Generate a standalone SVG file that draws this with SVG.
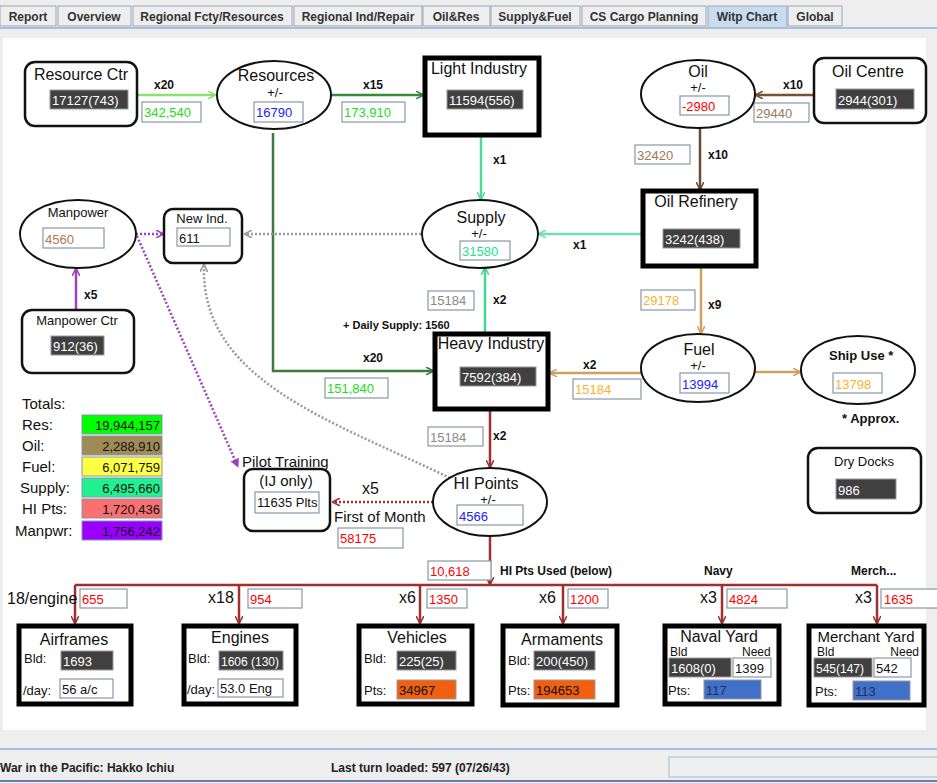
<svg xmlns="http://www.w3.org/2000/svg" width="937" height="783" viewBox="0 0 937 783">
<defs>
<marker id="ah" viewBox="0 0 10 10" refX="9" refY="5" markerWidth="8" markerHeight="8" orient="auto" markerUnits="userSpaceOnUse"><path d="M0,0 L10,5 L0,10" fill="none" stroke="context-stroke" stroke-width="2"/></marker>
<marker id="af" viewBox="0 0 10 10" refX="9" refY="5" markerWidth="9" markerHeight="9" orient="auto" markerUnits="userSpaceOnUse"><path d="M0,0 L10,5 L0,10 z" fill="context-stroke"/></marker>
</defs>
<style>
text{font-family:"Liberation Sans",Arial,sans-serif;fill:#111}
.t{font-size:16px;text-anchor:middle}
.pm{font-size:13px;text-anchor:middle}
.b{font-size:12px;font-weight:bold}
.tab{font-size:12px;font-weight:bold;fill:#333;text-anchor:middle}
.rr{fill:#fff;stroke:#111;stroke-width:2.5}
.th{fill:#fff;stroke:#000;stroke-width:5}
.el{fill:#fff;stroke:#111;stroke-width:2}
.dk{fill:#404040;stroke:#999;stroke-width:1}
.dt{font-size:13px;fill:#fff}
.vb{fill:#fff;stroke:#8896a8;stroke-width:1.2}
.v{font-size:13px}
.ln{fill:none;stroke-width:2.5;marker-end:url(#ah)}
.tot{font-size:15px}
.tv{font-size:13px;text-anchor:end}
</style>
<rect width="937" height="783" fill="#eeeeee"/>
<g id="tabs">
<rect x="0" y="6" width="56" height="20" fill="#eeeeee" stroke="#9aa8b8"/><text class="tab" x="28" y="21">Report</text>
<rect x="58" y="6" width="73" height="20" fill="#eeeeee" stroke="#9aa8b8"/><text class="tab" x="94" y="21">Overview</text>
<rect x="133" y="6" width="159" height="20" fill="#eeeeee" stroke="#9aa8b8"/><text class="tab" x="212" y="21">Regional Fcty/Resources</text>
<rect x="294" y="6" width="128" height="20" fill="#eeeeee" stroke="#9aa8b8"/><text class="tab" x="358" y="21">Regional Ind/Repair</text>
<rect x="423" y="6" width="67" height="20" fill="#eeeeee" stroke="#9aa8b8"/><text class="tab" x="456" y="21">Oil&amp;Res</text>
<rect x="491" y="6" width="89" height="20" fill="#eeeeee" stroke="#9aa8b8"/><text class="tab" x="535" y="21">Supply&amp;Fuel</text>
<rect x="582" y="6" width="124" height="20" fill="#eeeeee" stroke="#9aa8b8"/><text class="tab" x="644" y="21">CS Cargo Planning</text>
<rect x="708" y="6" width="79" height="22" fill="#c8dcf0" stroke="#9aa8b8"/><text class="tab" x="747" y="21">Witp Chart</text>
<rect x="788" y="6" width="54" height="20" fill="#eeeeee" stroke="#9aa8b8"/><text class="tab" x="815" y="21">Global</text>
<line x1="0" y1="28" x2="937" y2="28" stroke="#a8c0dc" stroke-width="2"/>
</g>
<rect x="3" y="38" width="923" height="692" fill="#fff"/>

<g id="connectors">
<line class="ln" x1="137" y1="95" x2="215" y2="95" stroke="#90e070"/>
<line class="ln" x1="331" y1="95" x2="423" y2="95" stroke="#3a8a3a"/>
<polyline class="ln" points="273,133 273,371 433,371" stroke="#3a7a3a"/>
<line class="ln" x1="481" y1="137" x2="481" y2="199" stroke="#50dc98"/>
<line class="ln" x1="642" y1="234" x2="539" y2="234" stroke="#70e0b0"/>
<line class="ln" x1="485" y1="333" x2="485" y2="268" stroke="#40d890"/>
<line class="ln" x1="814" y1="95" x2="756" y2="95" stroke="#7a5030"/>
<line class="ln" x1="700" y1="128" x2="700" y2="189" stroke="#6a4a30"/>
<line class="ln" x1="701" y1="267" x2="701" y2="333" stroke="#d0a060"/>
<line class="ln" x1="641" y1="373" x2="550" y2="373" stroke="#d0a060"/>
<line class="ln" x1="755" y1="372" x2="800" y2="372" stroke="#d0a060"/>
<line class="ln" x1="490" y1="410" x2="490" y2="467" stroke="#a03030"/>
<line class="ln" x1="421" y1="234" x2="245" y2="234" stroke="#999" stroke-dasharray="2,2"/>
<path class="ln" d="M450,478 C330,420 200,380 204,265" stroke="#999" stroke-dasharray="2,2"/>
<line x1="136" y1="234" x2="163" y2="234" stroke="#a040c0" stroke-width="2.5" stroke-dasharray="2,2" marker-end="url(#ah)"/>
<line x1="137" y1="236" x2="238" y2="467" stroke="#a040c0" stroke-width="2.5" stroke-dasharray="2,2" marker-end="url(#af)"/>
<line class="ln" x1="76" y1="310" x2="76" y2="269" stroke="#a040c0"/>
<line class="ln" x1="433" y1="502" x2="333" y2="502" stroke="#a03030" stroke-dasharray="2,2"/>
<line class="ln" x1="490" y1="536" x2="490" y2="584" stroke="#a03030"/>
<line x1="75" y1="585" x2="877" y2="585" stroke="#a03030" stroke-width="2.5"/>
<line class="ln" x1="75" y1="585" x2="75" y2="623" stroke="#a03030"/>
<line class="ln" x1="239" y1="585" x2="239" y2="623" stroke="#a03030"/>
<line class="ln" x1="420" y1="585" x2="420" y2="623" stroke="#a03030"/>
<line class="ln" x1="563" y1="585" x2="563" y2="623" stroke="#a03030"/>
<line class="ln" x1="722" y1="585" x2="722" y2="623" stroke="#a03030"/>
<line class="ln" x1="877" y1="585" x2="877" y2="623" stroke="#a03030"/>
</g>

<g id="labels">
<text class="b" x="154" y="89">x20</text>
<rect class="vb" x="142" y="102" width="59" height="20"/><text class="v" x="144" y="117" style="fill:#22dd22">342,540</text>
<text class="b" x="363" y="89">x15</text>
<rect class="vb" x="342" y="102" width="63" height="20"/><text class="v" x="344" y="117" style="fill:#22dd22">173,910</text>
<text class="b" x="363" y="362">x20</text>
<rect class="vb" x="325" y="378" width="63" height="20"/><text class="v" x="327" y="393" style="fill:#22dd22">151,840</text>
<text class="b" x="493" y="164">x1</text>
<text class="b" x="573" y="249">x1</text>
<text class="b" x="493" y="304">x2</text>
<rect class="vb" x="428" y="291" width="46" height="19"/><text class="v" x="430" y="305" style="fill:#888">15184</text>
<text class="b" x="343" y="329" style="font-size:11px">+ Daily Supply: 1560</text>
<text class="b" x="783" y="89">x10</text>
<rect class="vb" x="754" y="103" width="55" height="19"/><text class="v" x="756" y="118" style="fill:#9a7a5a">29440</text>
<text class="b" x="708" y="159">x10</text>
<rect class="vb" x="635" y="145" width="55" height="19"/><text class="v" x="637" y="160" style="fill:#9a7a5a">32420</text>
<text class="b" x="708" y="309">x9</text>
<rect class="vb" x="641" y="290" width="54" height="20"/><text class="v" x="643" y="305" style="fill:#ffb030">29178</text>
<text class="b" x="583" y="369">x2</text>
<rect class="vb" x="573" y="379" width="68" height="20"/><text class="v" x="575" y="394" style="fill:#ffb030">15184</text>
<text class="b" x="493" y="440">x2</text>
<rect class="vb" x="428" y="427" width="55" height="19"/><text class="v" x="430" y="442" style="fill:#888">15184</text>
<text class="b" x="84" y="299">x5</text>
<text x="362" y="494" style="font-size:16px">x5</text>
<text x="334" y="522" style="font-size:15px">First of Month</text>
<rect class="vb" x="338" y="528" width="65" height="20"/><text class="v" x="340" y="543" style="fill:red">58175</text>
<rect class="vb" x="428" y="561" width="63" height="19"/><text class="v" x="430" y="576" style="fill:red">10,618</text>
<text class="b" x="500" y="575">HI Pts Used (below)</text>
<text class="b" x="704" y="575">Navy</text>
<text class="b" x="851" y="575">Merch...</text>
<text x="7" y="604" style="font-size:16px">18/engine</text>
<rect class="vb" x="80" y="589" width="47" height="19"/><text class="v" x="82" y="604" style="fill:red">655</text>
<text x="208" y="603" style="font-size:16px">x18</text>
<rect class="vb" x="248" y="589" width="54" height="19"/><text class="v" x="250" y="604" style="fill:red">954</text>
<text x="399" y="603" style="font-size:16px">x6</text>
<rect class="vb" x="427" y="589" width="40" height="19"/><text class="v" x="429" y="604" style="fill:red">1350</text>
<text x="539" y="603" style="font-size:16px">x6</text>
<rect class="vb" x="568" y="589" width="40" height="19"/><text class="v" x="570" y="604" style="fill:red">1200</text>
<text x="700" y="603" style="font-size:16px">x3</text>
<rect class="vb" x="727" y="589" width="60" height="19"/><text class="v" x="729" y="604" style="fill:red">4824</text>
<text x="855" y="603" style="font-size:16px">x3</text>
<rect class="vb" x="881" y="589" width="60" height="19"/><text class="v" x="884" y="604" style="fill:red">1635</text>
</g>

<g id="resource-ctr"><rect class="rr" x="25" y="62" width="112" height="64" rx="10"/><text class="t" x="81" y="80">Resource Ctr</text><rect class="dk" x="50" y="90" width="78" height="19"/><text class="dt" x="52" y="105">17127(743)</text></g>
<g id="resources"><ellipse class="el" cx="274" cy="95" rx="57" ry="34"/><text class="t" x="276" y="81">Resources</text><text class="pm" x="275" y="97">+/-</text><rect class="vb" x="254" y="102" width="49" height="20"/><text class="v" x="256" y="117" style="fill:#2020ff">16790</text></g>
<g id="light-industry"><rect class="th" x="425" y="58" width="114" height="77"/><text class="t" x="479" y="74">Light Industry</text><rect class="dk" x="447" y="90" width="76" height="19"/><text class="dt" x="449" y="105">11594(556)</text></g>
<g id="oil"><ellipse class="el" cx="698" cy="94" rx="57" ry="34"/><text class="t" x="698" y="77">Oil</text><text class="pm" x="698" y="92">+/-</text><rect class="vb" x="680" y="96" width="49" height="19"/><text class="v" x="682" y="111" style="fill:red">-2980</text></g>
<g id="oil-centre"><rect class="rr" x="814" y="58" width="112" height="65" rx="10"/><text class="t" x="868" y="77">Oil Centre</text><rect class="dk" x="836" y="89" width="78" height="20"/><text class="dt" x="838" y="105">2944(301)</text></g>
<g id="oil-refinery"><rect class="th" x="643" y="191" width="113" height="75"/><text class="t" x="696" y="207">Oil Refinery</text><rect class="dk" x="663" y="229" width="77" height="19"/><text class="dt" x="665" y="244">3242(438)</text></g>
<g id="supply"><ellipse class="el" cx="480" cy="234" rx="58" ry="34"/><text class="t" x="481" y="223">Supply</text><text class="pm" x="479" y="238">+/-</text><rect class="vb" x="460" y="241" width="50" height="19"/><text class="v" x="462" y="256" style="fill:#19e68c">31580</text></g>
<g id="manpower"><ellipse class="el" cx="78" cy="234" rx="58" ry="34"/><text x="78" y="217" style="font-size:13px;text-anchor:middle">Manpower</text><rect class="vb" x="43" y="228" width="61" height="20"/><text class="v" x="45" y="244" style="fill:#b07858">4560</text></g>
<g id="new-ind"><rect class="rr" x="164" y="209" width="78" height="54" rx="9"/><text x="202" y="223" style="font-size:13px;text-anchor:middle">New Ind.</text><rect class="vb" x="177" y="228" width="53" height="18"/><text class="v" x="179" y="243">611</text></g>
<g id="manpower-ctr"><rect class="rr" x="22" y="310" width="112" height="63" rx="10"/><text x="77" y="325" style="font-size:13px;text-anchor:middle">Manpower Ctr</text><rect class="dk" x="51" y="336" width="53" height="19"/><text class="dt" x="53" y="351">912(36)</text></g>
<g id="heavy-industry"><rect class="th" x="435" y="334" width="113" height="75"/><text class="t" x="491" y="349">Heavy Industry</text><rect class="dk" x="460" y="367" width="76" height="19"/><text class="dt" x="462" y="382">7592(384)</text></g>
<g id="fuel"><ellipse class="el" cx="698" cy="368" rx="57" ry="34"/><text class="t" x="699" y="355">Fuel</text><text class="pm" x="698" y="370">+/-</text><rect class="vb" x="680" y="373" width="49" height="20"/><text class="v" x="682" y="389" style="fill:#2020ff">13994</text></g>
<g id="ship-use"><ellipse class="el" cx="858" cy="370" rx="57" ry="34"/><text class="b" x="829" y="360" style="font-size:13px">Ship Use *</text><rect class="vb" x="833" y="373" width="49" height="20"/><text class="v" x="835" y="389" style="fill:#ffb030">13798</text></g>
<text class="b" x="842" y="423" style="font-size:13px">* Approx.</text>
<g id="dry-docks"><rect class="rr" x="808" y="448" width="113" height="65" rx="10"/><text x="864" y="466" style="font-size:13px;text-anchor:middle">Dry Docks</text><rect class="dk" x="836" y="479" width="60" height="20"/><text class="dt" x="838" y="495">986</text></g>
<g id="hi-points"><ellipse class="el" cx="490" cy="502" rx="57" ry="34"/><text class="t" x="486" y="489">HI Points</text><text class="pm" x="488" y="504">+/-</text><rect class="vb" x="457" y="505" width="66" height="20"/><text class="v" x="459" y="521" style="fill:#2020ff">4566</text></g>
<g id="pilot-training"><text x="242" y="467" style="font-size:15px">Pilot Training</text><rect class="rr" x="244" y="469" width="86" height="62" rx="9"/><text class="t" x="286" y="486" style="font-size:15px">(IJ only)</text><rect class="vb" x="255" y="492" width="64" height="21"/><text class="v" x="257" y="507">11635 Plts</text></g>

<g id="totals">
<text class="tot" x="22" y="409">Totals:</text>
<text class="tot" x="22" y="430">Res:</text><rect x="82" y="415" width="80" height="19" fill="#00ff00" stroke="#8896a8"/><text class="tv" x="160" y="430">19,944,157</text>
<text class="tot" x="22" y="451">Oil:</text><rect x="82" y="436" width="80" height="19" fill="#a08a55" stroke="#8896a8"/><text class="tv" x="160" y="451">2,288,910</text>
<text class="tot" x="22" y="472">Fuel:</text><rect x="82" y="457" width="80" height="19" fill="#ffff44" stroke="#8896a8"/><text class="tv" x="160" y="472">6,071,759</text>
<text class="tot" x="20" y="493">Supply:</text><rect x="82" y="478" width="80" height="19" fill="#20f090" stroke="#8896a8"/><text class="tv" x="160" y="493">6,495,660</text>
<text class="tot" x="22" y="514">HI Pts:</text><rect x="82" y="499" width="80" height="19" fill="#f87070" stroke="#8896a8"/><text class="tv" x="160" y="514">1,720,436</text>
<text class="tot" x="15" y="536">Manpwr:</text><rect x="82" y="521" width="80" height="19" fill="#9900ff" stroke="#8896a8"/><text class="tv" x="160" y="536">1,756,242</text>
</g>

<g id="airframes"><rect class="th" x="19" y="626" width="112" height="78"/><text class="t" x="74" y="645">Airframes</text><text x="24" y="663" style="font-size:13px">Bld:</text><rect class="dk" x="61" y="651" width="52" height="19"/><text class="dt" x="63" y="666">1693</text><text x="23" y="695" style="font-size:13px">/day:</text><rect class="vb" x="60" y="679" width="53" height="19"/><text class="v" x="62" y="694">56 a/c</text></g>
<g id="engines"><rect class="th" x="184" y="626" width="112" height="78"/><text class="t" x="240" y="643">Engines</text><text x="188" y="663" style="font-size:13px">Bld:</text><rect class="dk" x="219" y="651" width="64" height="19"/><text class="dt" x="221" y="666" style="font-size:12px">1606 (130)</text><text x="187" y="694" style="font-size:13px">/day:</text><rect class="vb" x="218" y="679" width="65" height="18"/><text class="v" x="220" y="693">53.0 Eng</text></g>
<g id="vehicles"><rect class="th" x="359" y="626" width="113" height="78"/><text class="t" x="417" y="643">Vehicles</text><text x="364" y="663" style="font-size:13px">Bld:</text><rect class="dk" x="397" y="651" width="59" height="19"/><text class="dt" x="399" y="666">225(25)</text><text x="364" y="695" style="font-size:13px">Pts:</text><rect x="397" y="680" width="59" height="19" fill="#f06010" stroke="#999"/><text class="v" x="399" y="695">34967</text></g>
<g id="armaments"><rect class="th" x="503" y="626" width="114" height="79"/><text class="t" x="562" y="645">Armaments</text><text x="508" y="665" style="font-size:13px">Bld:</text><rect class="dk" x="534" y="651" width="61" height="19"/><text class="dt" x="536" y="666">200(450)</text><text x="508" y="695" style="font-size:13px">Pts:</text><rect x="534" y="680" width="61" height="19" fill="#f06010" stroke="#999"/><text class="v" x="536" y="695">194653</text></g>
<g id="naval-yard"><rect class="th" x="665" y="626" width="114" height="78"/><text class="t" x="719" y="642">Naval Yard</text><text x="670" y="656" style="font-size:12px">Bld</text><text x="742" y="656" style="font-size:12px">Need</text><rect class="dk" x="669" y="658" width="62" height="19"/><text class="dt" x="671" y="673">1608(0)</text><rect class="vb" x="733" y="658" width="38" height="19"/><text class="v" x="735" y="673">1399</text><text x="668" y="695" style="font-size:13px">Pts:</text><rect x="704" y="680" width="57" height="19" fill="#4070c8" stroke="#999"/><text class="v" x="706" y="695" style="fill:#203060">117</text></g>
<g id="merchant-yard"><rect class="th" x="809" y="626" width="115" height="79"/><text class="t" x="866" y="642" style="font-size:15px">Merchant Yard</text><text x="817" y="656" style="font-size:12px">Bld</text><text x="919" y="656" style="font-size:12px;text-anchor:end">Need</text><rect class="dk" x="814" y="658" width="58" height="19"/><text class="dt" x="816" y="673" style="font-size:12px">545(147)</text><rect class="vb" x="874" y="658" width="37" height="19"/><text class="v" x="876" y="673">542</text><text x="815" y="696" style="font-size:13px">Pts:</text><rect x="853" y="681" width="57" height="19" fill="#4070c8" stroke="#999"/><text class="v" x="855" y="696" style="fill:#203060">113</text></g>

<g id="status">
<line x1="0" y1="749" x2="937" y2="749" stroke="#a8c0dc" stroke-width="2"/>
<text x="0" y="772" style="font-size:12px;font-weight:bold;fill:#222">War in the Pacific: Hakko Ichiu</text>
<text x="331" y="772" style="font-size:12px;font-weight:bold;fill:#222">Last turn loaded: 597 (07/26/43)</text>
<rect x="669" y="757" width="270" height="20" fill="#eeeeee" stroke="#a8b8cc"/>
<line x1="0" y1="781" x2="937" y2="781" stroke="#6080b0" stroke-width="2"/>
</g>
</svg>
